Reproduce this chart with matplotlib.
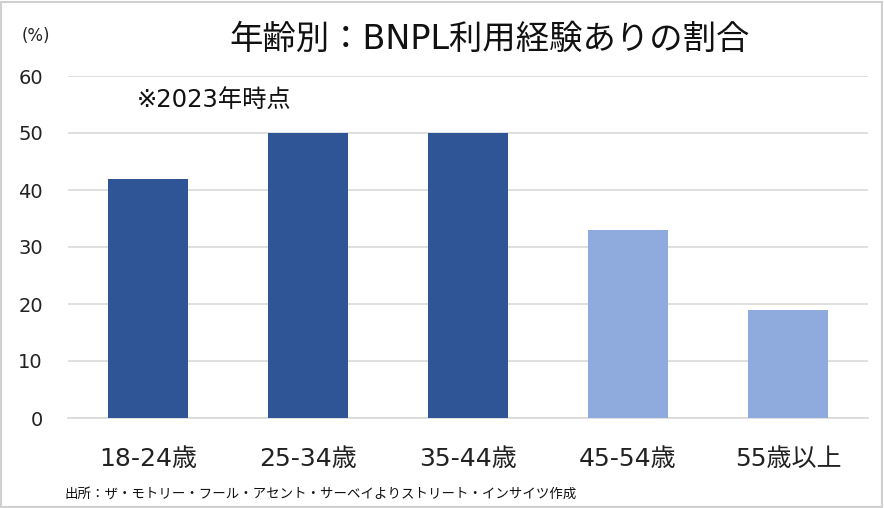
import matplotlib
matplotlib.use("Agg")
import matplotlib.pyplot as plt
from matplotlib.patches import Rectangle

plt.rcParams['font.family'] = ['DejaVu Sans', 'Noto Sans CJK JP']

categories = ["18-24歳", "25-34歳", "35-44歳", "45-54歳", "55歳以上"]
values = [42, 50, 50, 33, 19]
colors = ["#2F5597", "#2F5597", "#2F5597", "#8FAADC", "#8FAADC"]
yticks = [0, 10, 20, 30, 40, 50, 60]

fig = plt.figure(figsize=(8.84, 5.08), dpi=100)
ax = fig.add_axes([68/884, 1-418/508, 800/884, (418-76)/508])

x = list(range(len(categories)))
ax.bar(x, values, width=0.5, color=colors, zorder=3)
ax.set_xlim(-0.5, len(categories)-0.5)
ax.set_ylim(0, 60)
ax.set_yticks(yticks)
ax.set_yticklabels([str(v) for v in yticks], fontsize=14, color="#222222")
ax.set_xticks(x)
ax.set_xticklabels(categories, fontsize=18, color="#222222")
ax.tick_params(axis='y', length=0, pad=18)
ax.tick_params(axis='x', length=0, pad=21)
ax.grid(axis='y', color="#D9D9D9", linewidth=1.2, zorder=0)
for s in ['top', 'right', 'left']:
    ax.spines[s].set_visible(False)
ax.spines['bottom'].set_color("#D9D9D9")
ax.spines['bottom'].set_linewidth(1.2)

fig.text(490/884, 1-39/508, "年齢別：BNPL利用経験ありの割合", fontsize=24,
         ha='center', va='center', color="#111111")
fig.text(137/884, 1-100/508, "※2023年時点", fontsize=17.5, ha='left', va='center',
         color="#111111")
fig.text(36/884, 1-36/508, "(%)", fontsize=12, ha='center', va='center',
         color="#222222")
fig.text(64/884, 1-494/508,
         "出所：ザ・モトリー・フール・アセント・サーベイよりストリート・インサイツ作成",
         family=['Noto Sans CJK JP'], fontsize=9.7, ha='left', va='center',
         color="#111111")

fig.patches.append(Rectangle((0.001, 0.002), 0.997, 0.995, transform=fig.transFigure,
                             fill=False, edgecolor="#D0D0D0", linewidth=1.5))

fig.savefig("out.png", dpi=100)
